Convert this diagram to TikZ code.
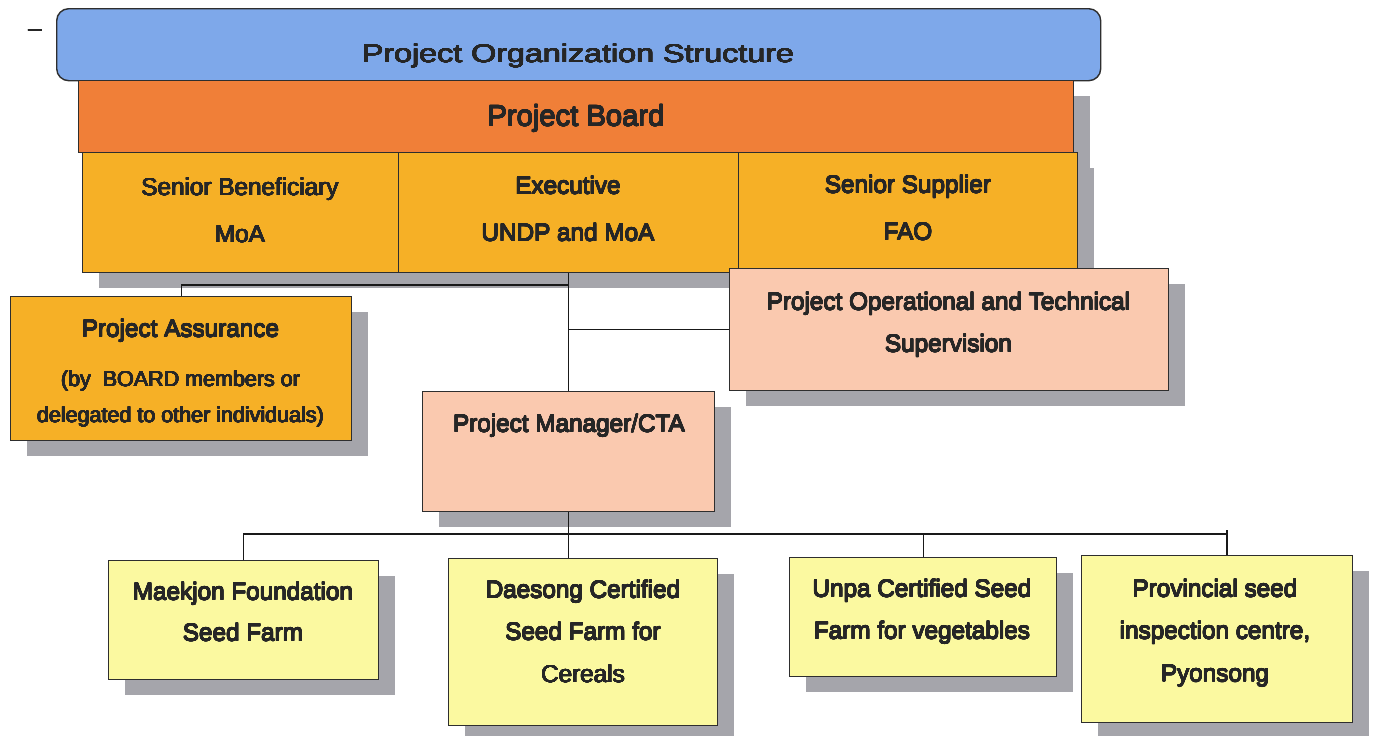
\documentclass[tikz,border=0pt]{standalone}
\usepackage{fontspec}
\setmainfont{Liberation Sans}
\newfontfamily\titlefont{Liberation Sans}[FakeStretch=1.265]
\usepackage{contour}
\contourlength{0.35pt}
\contournumber{16}
\usetikzlibrary{shadows}

\definecolor{headblue}{HTML}{7EA8EA}
\definecolor{boardorange}{HTML}{F07F38}
\definecolor{gold}{HTML}{F6B026}
\definecolor{salmon}{HTML}{FAC9AF}
\definecolor{lemon}{HTML}{FBF9A0}
\definecolor{shadowgray}{HTML}{A5A5AB}
\definecolor{edge}{HTML}{2E2E2E}
\definecolor{ink}{HTML}{262626}

% text with slightly thickened strokes
\newcommand{\heavytext}[1]{\contour{ink}{#1}}

\tikzset{
  box/.style={draw=edge, line width=1.4pt, rectangle, inner sep=0pt, anchor=north west},
  shadowed/.style={drop shadow={shadow xshift=16pt, shadow yshift=-15pt, fill=shadowgray, opacity=1}},
  txt/.style={anchor=base, inner sep=0pt, text=ink, font=\fontsize{24.3}{29}\selectfont},
  smalltxt/.style={txt, font=\fontsize{21.5}{26}\selectfont},
  wire/.style={draw=black!90, line width=1.4pt},
}

\begin{document}
\begin{tikzpicture}[x=1pt, y=-1pt]
\useasboundingbox (0,0) rectangle (1373,736);

% stray dash at the top left
\node[txt, font=\fontsize{24}{28}\selectfont] (dash) at (35,36.6) {\heavytext{–}};

% header and board
\node[box, fill=headblue, rounded corners=12pt, minimum width=1044pt, minimum height=72pt] (head) at (56,8) {};
\node[box, shadowed, fill=boardorange, minimum width=995pt, minimum height=72pt] (board) at (78,80) {};

% board members
\node[box, shadowed, fill=gold, minimum width=316pt, minimum height=120pt] (sb) at (82,152) {};
\node[box, shadowed, fill=gold, minimum width=340pt, minimum height=120pt] (ex) at (398,152) {};
\node[box, shadowed, fill=gold, minimum width=339pt, minimum height=120pt] (ss) at (738,152) {};

% assurance, supervision, management
\node[box, shadowed, fill=gold, minimum width=341pt, minimum height=144pt] (as) at (10,296) {};
\node[box, shadowed, fill=salmon, minimum width=439pt, minimum height=122pt] (ots) at (729,268) {};
\node[box, shadowed, fill=salmon, minimum width=292pt, minimum height=120pt] (pm) at (422,391) {};

% seed farms
\node[box, shadowed, fill=lemon, minimum width=270pt, minimum height=119pt] (mk) at (108,560) {};
\node[box, shadowed, fill=lemon, minimum width=269pt, minimum height=167pt] (ds) at (448,558) {};
\node[box, shadowed, fill=lemon, minimum width=267pt, minimum height=119pt] (up) at (789,557) {};
\node[box, shadowed, fill=lemon, minimum width=271pt, minimum height=167pt] (pv) at (1081,555) {};

% connectors
\coordinate (asj) at (568,285);
\coordinate (bus) at (568,534);
\coordinate (busR) at (1227,534);
\draw[wire] (ex.south) -- (pm.north);
\draw[wire] (as.north) |- (asj);
\draw[wire] (ots.west) -- (ots.west -| ex.south);
\draw[wire] (pm.south) -- (pm.south |- ds.north);
\draw[wire] (mk.north) -- (mk.north |- bus) -- (busR) -- (busR |- pv.north);
\draw[wire] (up.north) -- (up.north |- bus);
\draw[wire] (busR) -- ++(0,-4);

% texts
\node[txt, font=\titlefont\fontsize{25.5}{30}\selectfont] (headt) at (578,62.5) {\heavytext{Project Organization Structure}};
\node[txt, font=\fontsize{29.2}{34}\selectfont] (boardt) at (576,126) {\heavytext{Project Board}};

\node[txt] (sb1) at (240,195.5) {\heavytext{Senior Beneficiary}};
\node[txt] (sb2) at (240,242.5) {\heavytext{MoA}};
\node[txt] (ex1) at (568,194) {\heavytext{Executive}};
\node[txt] (ex2) at (568,241) {\heavytext{UNDP and MoA}};
\node[txt] (ss1) at (908,193) {\heavytext{Senior Supplier}};
\node[txt] (ss2) at (908,240) {\heavytext{FAO}};

\node[txt] (as1) at (180.5,337) {\heavytext{Project Assurance}};
\node[smalltxt] (as2) at (180.5,386.5) {\heavytext{(by\ \ BOARD members or}};
\node[smalltxt] (as3) at (180.5,422.5) {\heavytext{delegated to other individuals)}};

\node[txt] (ot1) at (948.5,310) {\heavytext{Project Operational and Technical}};
\node[txt] (ot2) at (948.5,352) {\heavytext{Supervision}};

\node[txt] (pm1) at (569,432) {\heavytext{Project Manager/CTA}};

\node[txt] (mk1) at (243,600) {\heavytext{Maekjon Foundation}};
\node[txt] (mk2) at (243,641) {\heavytext{Seed Farm}};
\node[txt] (ds1) at (583,598) {\heavytext{Daesong Certified}};
\node[txt] (ds2) at (583,640) {\heavytext{Seed Farm for}};
\node[txt] (ds3) at (583,682.5) {\heavytext{Cereals}};
\node[txt] (up1) at (922,597) {\heavytext{Unpa Certified Seed}};
\node[txt] (up2) at (922,639) {\heavytext{Farm for vegetables}};
\node[txt] (pv1) at (1215,597) {\heavytext{Provincial seed}};
\node[txt] (pv2) at (1215,639) {\heavytext{inspection centre,}};
\node[txt] (pv3) at (1215,681.7) {\heavytext{Pyonsong}};
\end{tikzpicture}
\end{document}
